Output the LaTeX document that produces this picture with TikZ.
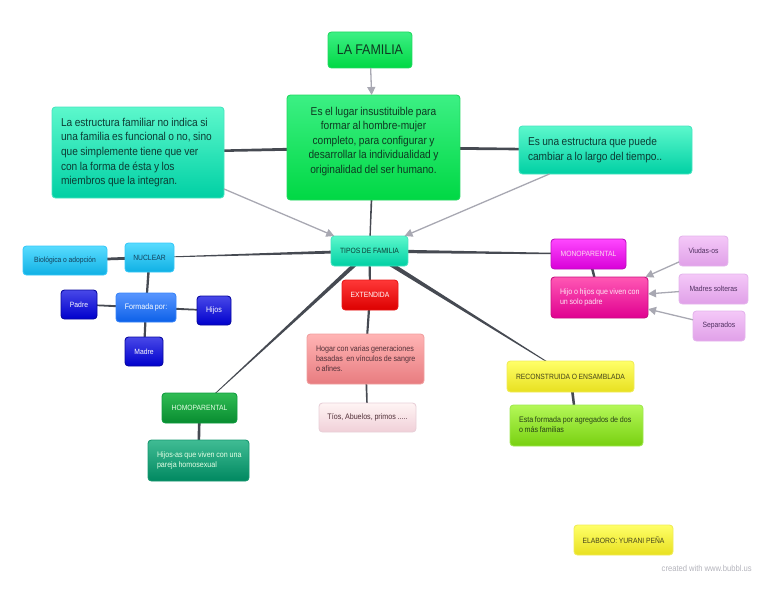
\documentclass[tikz,border=0pt]{standalone}
\usepackage{fontspec}
\setmainfont[FakeStretch=0.89,WordSpace=0.88]{Liberation Sans}
\usetikzlibrary{calc,arrows.meta}
\pgfdeclarelayer{back}
\pgfsetlayers{back,main}
\tikzset{
  x=1pt,y=-1pt,
  bubblebox/.style={rounded corners=3.5pt,inner sep=0pt,outer sep=0pt,line width=0.9pt,font=\fontsize{8}{10}\selectfont},
  big/.style={font=\fontsize{11.4}{14.6}\selectfont},
  small/.style={font=\fontsize{7.6}{10}\selectfont},
  cfamily/.style={top color=cmainT,bottom color=cmainB,draw=cmainE,text=cmainX},
  cteal/.style={top color=ctealT,bottom color=ctealB,draw=ctealE,text=ctealX},
  ccyan/.style={top color=ccyanT,bottom color=ccyanB,draw=ccyanE,text=ccyanX},
  cblue/.style={top color=cblueT,bottom color=cblueB,draw=cblueE,text=white},
  cnavy/.style={top color=cnavyT,bottom color=cnavyB,draw=cnavyE,text=white},
  cred/.style={top color=credT,bottom color=credB,draw=credE,text=white},
  crose/.style={top color=croseT,bottom color=croseB,draw=croseE,text=croseX},
  cpale/.style={top color=cpaleT,bottom color=cpaleB,draw=cpaleE,text=croseX},
  cforest/.style={top color=cforT,bottom color=cforB,draw=cforE,text=white!90!green},
  csea/.style={top color=cseaT,bottom color=cseaB,draw=cseaE,text=white!90!green},
  cmagenta/.style={top color=cmagT,bottom color=cmagB,draw=cmagE,text=white!85!magenta},
  cpink/.style={top color=cpinkT,bottom color=cpinkB,draw=cpinkE,text=white!90!magenta},
  clilac/.style={top color=clilT,bottom color=clilB,draw=clilE,text=clilX},
  cyellow/.style={top color=cyelT,bottom color=cyelB,draw=cyelE,text=cyelX},
  clime/.style={top color=climT,bottom color=climB,draw=climE,text=climX},
  linkbar/.style={fill=linkcol,draw=none},
  greyarrow/.style={draw=arrowcol,line width=1.3pt,-{Triangle[length=8pt,width=8pt]}},
}
\definecolor{cmainT}{HTML}{3CF084}\definecolor{cmainB}{HTML}{00D844}\definecolor{cmainE}{HTML}{22D860}\definecolor{cmainX}{HTML}{0E3A22}
\definecolor{ctealT}{HTML}{5CF8CC}\definecolor{ctealB}{HTML}{00D0A4}\definecolor{ctealE}{HTML}{48E4C0}\definecolor{ctealX}{HTML}{0C3C34}
\definecolor{ccyanT}{HTML}{58DCFF}\definecolor{ccyanB}{HTML}{10B0E4}\definecolor{ccyanE}{HTML}{38C8F8}\definecolor{ccyanX}{HTML}{14405A}
\definecolor{cblueT}{HTML}{5896FF}\definecolor{cblueB}{HTML}{0C60E8}\definecolor{cblueE}{HTML}{3884F8}
\definecolor{cnavyT}{HTML}{4848E8}\definecolor{cnavyB}{HTML}{0000CC}\definecolor{cnavyE}{HTML}{0808A0}
\definecolor{credT}{HTML}{FF3838}\definecolor{credB}{HTML}{DC0000}\definecolor{credE}{HTML}{E81818}
\definecolor{croseT}{HTML}{FFB4B4}\definecolor{croseB}{HTML}{E87C80}\definecolor{croseE}{HTML}{F0A0A0}\definecolor{croseX}{HTML}{503038}
\definecolor{cpaleT}{HTML}{FFF4F4}\definecolor{cpaleB}{HTML}{F0D0D8}\definecolor{cpaleE}{HTML}{E8D0D8}
\definecolor{cforT}{HTML}{30BC54}\definecolor{cforB}{HTML}{088C30}\definecolor{cforE}{HTML}{109C40}
\definecolor{cseaT}{HTML}{40BC94}\definecolor{cseaB}{HTML}{008860}\definecolor{cseaE}{HTML}{189870}
\definecolor{cmagT}{HTML}{FF48FF}\definecolor{cmagB}{HTML}{D800D8}\definecolor{cmagE}{HTML}{C010C0}
\definecolor{cpinkT}{HTML}{FF58B4}\definecolor{cpinkB}{HTML}{E00090}\definecolor{cpinkE}{HTML}{C81080}
\definecolor{clilT}{HTML}{F4C8F8}\definecolor{clilB}{HTML}{E0A0E8}\definecolor{clilE}{HTML}{E4B4EC}\definecolor{clilX}{HTML}{503060}
\definecolor{cyelT}{HTML}{FFFF68}\definecolor{cyelB}{HTML}{E8E020}\definecolor{cyelE}{HTML}{F0EC58}\definecolor{cyelX}{HTML}{44441C}
\definecolor{climT}{HTML}{B4F858}\definecolor{climB}{HTML}{78D010}\definecolor{climE}{HTML}{A0E850}\definecolor{climX}{HTML}{284018}
\definecolor{linkcol}{HTML}{464A52}
\definecolor{arrowcol}{HTML}{A8A8B2}
\definecolor{marktext}{HTML}{B4B4BC}
% \bubble{name}{x0}{y0}{x1}{y1}{styles}{centred text}
\newcommand{\bubble}[7]{%
  \pgfmathsetmacro{\bw}{#4-#2}\pgfmathsetmacro{\bh}{#5-#3}%
  \pgfmathsetmacro{\cx}{(#2+#4)/2}\pgfmathsetmacro{\cy}{(#3+#5)/2}%
  \node[bubblebox,align=center,minimum width=\bw pt,minimum height=\bh pt,#6] (#1) at (\cx,\cy) {#7};%
}
% \bubbleL: the same, with text set flush left 9 units inside the box
\newcommand{\bubbleL}[7]{%
  \pgfmathsetmacro{\bw}{#4-#2}\pgfmathsetmacro{\bh}{#5-#3}%
  \pgfmathsetmacro{\cx}{(#2+#4)/2}\pgfmathsetmacro{\cy}{(#3+#5)/2}%
  \pgfmathsetmacro{\tw}{\bw-18}%
  \node[bubblebox,text width=\tw pt,align=left,minimum width=\bw pt,minimum height=\bh pt,#6] (#1) at (\cx,\cy) {\spaceskip=0pt\xspaceskip=0pt\begin{tabular}{@{}l@{}}#7\end{tabular}};%
}
% \taper{from}{to}{half width at from}{half width at to}
\newcommand{\taper}[4]{%
  \fill[linkbar] ($(#1.center)!#3pt!90:(#2.center)$) -- ($(#1.center)!#3pt!-90:(#2.center)$)
    -- ($(#2.center)!#4pt!90:(#1.center)$) -- ($(#2.center)!#4pt!-90:(#1.center)$) -- cycle;%
}
\begin{document}
\begin{tikzpicture}
\useasboundingbox (0,0) rectangle (768,594);

\bubble{familia}{328}{32}{412}{68}{cfamily,font=\fontsize{14}{16}\selectfont}{LA FAMILIA}
\bubble{lugar}{287}{95}{460}{200}{cfamily,big}{Es el lugar insustituible para\\formar al hombre-mujer\\completo, para configurar y\\desarrollar la individualidad y\\originalidad del ser humano.\\\mbox{}}
\bubbleL{estructura}{52}{107}{224}{198}{cteal,big}{La estructura familiar no indica si\\una familia es funcional o no, sino\\que simplemente tiene que ver\\con la forma de ésta y los\\miembros que la integran.}
\bubbleL{cambiar}{519}{126}{692}{174}{cteal,big}{Es una estructura que puede\\cambiar a lo largo del tiempo..}
\bubble{tipos}{331}{236}{408}{266}{cteal,small}{TIPOS DE FAMILIA}
\bubble{nuclear}{125}{243}{174}{272}{ccyan,small}{NUCLEAR}
\bubble{biologica}{23}{246}{107}{275}{ccyan,small}{Biológica o adopción}
\bubble{formada}{116}{293}{176}{322}{cblue}{Formada por:}
\bubble{padre}{61}{290}{97}{319}{cnavy,small}{Padre}
\bubble{hijos}{197}{296}{231}{325}{cnavy}{Hijos}
\bubble{madre}{125}{337}{163}{366}{cnavy,small}{Madre}
\bubble{extendida}{342}{280}{398}{310}{cred,small}{EXTENDIDA}
\bubbleL{hogar}{307}{334}{424}{384}{crose}{Hogar con varias generaciones\\basadas\ \ en vínculos de sangre\\o afines.}
\bubble{tios}{319}{403}{416}{432}{cpale}{Tíos, Abuelos, primos .....}
\bubble{homo}{162}{393}{237}{423}{cforest,small}{HOMOPARENTAL}
\bubbleL{hijosas}{148}{440}{249}{481}{csea}{Hijos-as que viven con una\\pareja homosexual}
\bubble{mono}{551}{239}{626}{269}{cmagenta,small}{MONOPARENTAL}
\bubbleL{hijo}{551}{277}{648}{318}{cpink}{Hijo o hijos que viven con\\un solo padre}
\bubble{viudas}{679}{236}{728}{266}{clilac,small}{Viudas-os}
\bubble{madres}{679}{274}{748}{304}{clilac,small}{Madres solteras}
\bubble{separados}{693}{311}{745}{341}{clilac,small}{Separados}
\bubble{recon}{507}{361}{634}{392}{cyellow,small}{RECONSTRUIDA O ENSAMBLADA}
\bubbleL{agregados}{510}{405}{643}{446}{clime}{Esta formada por agregados de dos\\o más familias}
\bubble{elaboro}{574}{525}{673}{555}{cyellow,small}{ELABORO: YURANI PEÑA}
\node[text=marktext,font=\fontsize{8.6}{10}\selectfont,anchor=east,inner sep=0pt] (marca) at (752,568) {created with www.bubbl.us};

\begin{pgfonlayer}{back}
\taper{lugar}{estructura}{1.7}{1.0}
\taper{lugar}{cambiar}{1.7}{1.0}
\taper{lugar}{tipos}{1.1}{0.6}
\taper{tipos}{nuclear}{1.7}{0.3}
\taper{tipos}{mono}{1.9}{0.5}
\taper{tipos}{extendida}{1.1}{1.0}
\taper{tipos}{homo}{2.2}{0.2}
\taper{tipos}{recon}{2.4}{0.2}
\taper{nuclear}{biologica}{1.5}{1.2}
\taper{nuclear}{formada}{1.3}{1.0}
\taper{formada}{padre}{1.2}{0.7}
\taper{formada}{hijos}{1.2}{0.7}
\taper{formada}{madre}{1.2}{1.0}
\taper{extendida}{hogar}{1.2}{0.9}
\taper{hogar}{tios}{1.0}{0.7}
\taper{homo}{hijosas}{1.4}{1.2}
\taper{mono}{hijo}{1.4}{1.0}
\taper{recon}{agregados}{1.5}{1.0}
\end{pgfonlayer}

\draw[greyarrow] (familia) -- (lugar);
\draw[greyarrow] (estructura) -- (tipos);
\draw[greyarrow] (cambiar) -- (tipos);
\draw[greyarrow] (viudas) -- (hijo);
\draw[greyarrow] (madres) -- (hijo);
\draw[greyarrow] (separados) -- (hijo);
\end{tikzpicture}
\end{document}
